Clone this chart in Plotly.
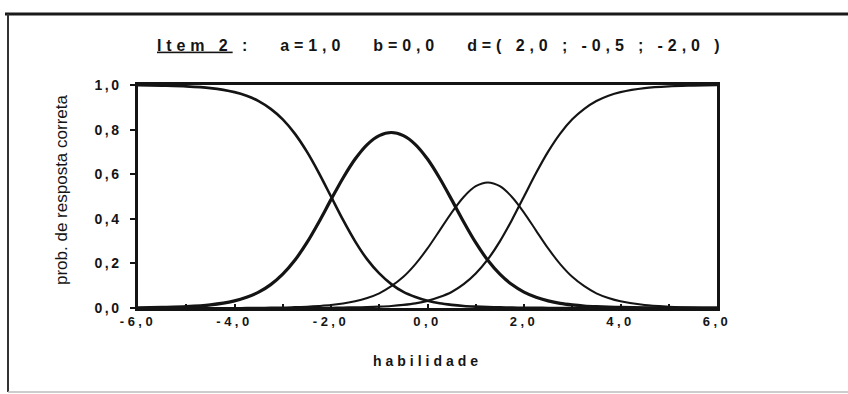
import plotly.graph_objects as go

# Ability scale (theta) and category response probabilities for item 2
habilidade = [-6.0, -5.5, -5.0, -4.5, -4.0, -3.75, -3.5, -3.25, -3.0, -2.75, -2.5, -2.25,
              -2.0, -1.75, -1.5, -1.25, -1.0, -0.75, -0.5, -0.25, 0.0, 0.25, 0.5, 0.75,
              1.0, 1.25, 1.5, 1.75, 2.0, 2.25, 2.5, 2.75, 3.0, 3.25, 3.5, 3.75,
              4.0, 4.5, 5.0, 5.5, 6.0]

cat0 = [0.999, 0.997, 0.994, 0.986, 0.968, 0.952, 0.928, 0.893, 0.846, 0.782, 0.701, 0.605,
        0.500, 0.395, 0.299, 0.218, 0.155, 0.107, 0.072, 0.049, 0.032, 0.021, 0.014, 0.009,
        0.006, 0.004, 0.003, 0.002, 0.001, 0.001, 0.000, 0.000, 0.000, 0.000, 0.000, 0.000,
        0.000, 0.000, 0.000, 0.000, 0.000]
cat1 = [0.001, 0.003, 0.006, 0.014, 0.032, 0.048, 0.071, 0.105, 0.152, 0.214, 0.293, 0.386,
        0.486, 0.583, 0.668, 0.733, 0.773, 0.787, 0.773, 0.733, 0.668, 0.583, 0.486, 0.386,
        0.293, 0.214, 0.152, 0.105, 0.071, 0.048, 0.032, 0.021, 0.014, 0.009, 0.006, 0.004,
        0.003, 0.001, 0.000, 0.000, 0.000]
cat2 = [0.000, 0.000, 0.000, 0.000, 0.000, 0.001, 0.001, 0.002, 0.002, 0.004, 0.006, 0.009,
        0.013, 0.020, 0.030, 0.045, 0.066, 0.098, 0.140, 0.197, 0.267, 0.347, 0.428, 0.498,
        0.546, 0.563, 0.546, 0.498, 0.428, 0.347, 0.267, 0.197, 0.140, 0.098, 0.066, 0.045,
        0.030, 0.013, 0.006, 0.002, 0.001]
cat3 = [0.000, 0.000, 0.000, 0.000, 0.000, 0.000, 0.000, 0.000, 0.000, 0.000, 0.001, 0.001,
        0.001, 0.002, 0.003, 0.004, 0.006, 0.009, 0.014, 0.021, 0.032, 0.049, 0.072, 0.107,
        0.155, 0.218, 0.299, 0.395, 0.500, 0.605, 0.701, 0.782, 0.846, 0.893, 0.928, 0.952,
        0.968, 0.986, 0.994, 0.997, 0.999]

series = [cat0, cat1, cat2, cat3]
widths = [2.6, 3.2, 2.0, 2.2]

x_tickvals = [-6, -5, -4, -3, -2, -1, 0, 1, 2, 3, 4, 5, 6]
x_ticklabels = ["-6,0", "", "-4,0", "", "-2,0", "", "0,0", "", "2,0", "", "4,0", "", "6,0"]
y_tickvals = [0.0, 0.2, 0.4, 0.6, 0.8, 1.0]
y_ticklabels = ["0,0", "0,2", "0,4", "0,6", "0,8", "1,0"]

title_rest = " :\u00a0\u00a0 a=1,0\u00a0\u00a0 b=0,0\u00a0\u00a0 d=( 2,0 ; -0,5 ; -2,0 )"


def spaced(s, px):
    return '<span style="letter-spacing:%spx">%s</span>' % (px, s) if s else ""


FONT = "Liberation Sans, Arial, sans-serif"
INK = "#141414"

fig = go.Figure()
for ys, w in zip(series, widths):
    fig.add_trace(go.Scatter(
        x=habilidade, y=ys, mode="lines",
        line=dict(color=INK, width=w, shape="spline", smoothing=0.8),
        showlegend=False, hoverinfo="skip",
    ))

W, H = 848, 394
L, R, T, B = 138, 717, 85, 308

fig.update_layout(
    width=W, height=H,
    margin=dict(l=L, r=W - R, t=T, b=H - B, pad=0),
    paper_bgcolor="white", plot_bgcolor="white",
    font=dict(family=FONT, color=INK),
    title=dict(
        text=spaced("<u>Item 2</u>" + title_rest, 4.9),
        font=dict(size=16, family=FONT, color=INK, weight="bold"),
        xref="container", x=157 / W, xanchor="left",
        yref="container", y=1 - 45 / H, yanchor="middle",
    ),
)

fig.update_xaxes(
    range=[-6, 6], tickvals=x_tickvals,
    ticktext=[spaced(t, 3.5) for t in x_ticklabels],
    ticks="inside", ticklen=4, tickwidth=1.5, tickcolor=INK,
    showline=True, linewidth=2.5, linecolor=INK, mirror=True,
    showgrid=False, zeroline=False,
    tickfont=dict(size=13, family=FONT, color=INK, weight="bold"),
    title=dict(text=spaced("habilidade", 4), standoff=28,
               font=dict(size=14, family=FONT, color=INK, weight="bold")),
)

fig.update_yaxes(
    range=[0, 1], tickvals=y_tickvals,
    ticktext=[spaced(t, 2.5) for t in y_ticklabels],
    ticks="outside", ticklen=5, tickwidth=1.5, tickcolor=INK,
    ticklabelstandoff=6,
    showline=True, linewidth=2.5, linecolor=INK, mirror=True,
    showgrid=False, zeroline=False,
    tickfont=dict(size=14, family=FONT, color=INK, weight="bold"),
)

# Rotated y title placed beside the tick labels
fig.add_annotation(
    text="prob. de resposta correta", textangle=-90,
    xref="paper", yref="paper",
    x=(61 - L) / (R - L), y=(B - 190) / (B - T),
    xanchor="center", yanchor="middle", showarrow=False,
    font=dict(size=17, family=FONT, color=INK),
)


# Outer chart frame
def px_x(p):
    return (p - L) / (R - L)


def px_y(p):
    return (B - p) / (B - T)


fig.add_shape(type="line", xref="paper", yref="paper",
              x0=px_x(5), x1=px_x(848), y0=px_y(14), y1=px_y(14),
              line=dict(color="#1a1a1a", width=3))
fig.add_shape(type="line", xref="paper", yref="paper",
              x0=px_x(8), x1=px_x(8), y0=px_y(14), y1=px_y(392),
              line=dict(color="#333333", width=2))
fig.add_shape(type="line", xref="paper", yref="paper",
              x0=px_x(8), x1=px_x(848), y0=px_y(392), y1=px_y(392),
              line=dict(color="#bbbbbb", width=1.5))

fig.write_html("out.html")
